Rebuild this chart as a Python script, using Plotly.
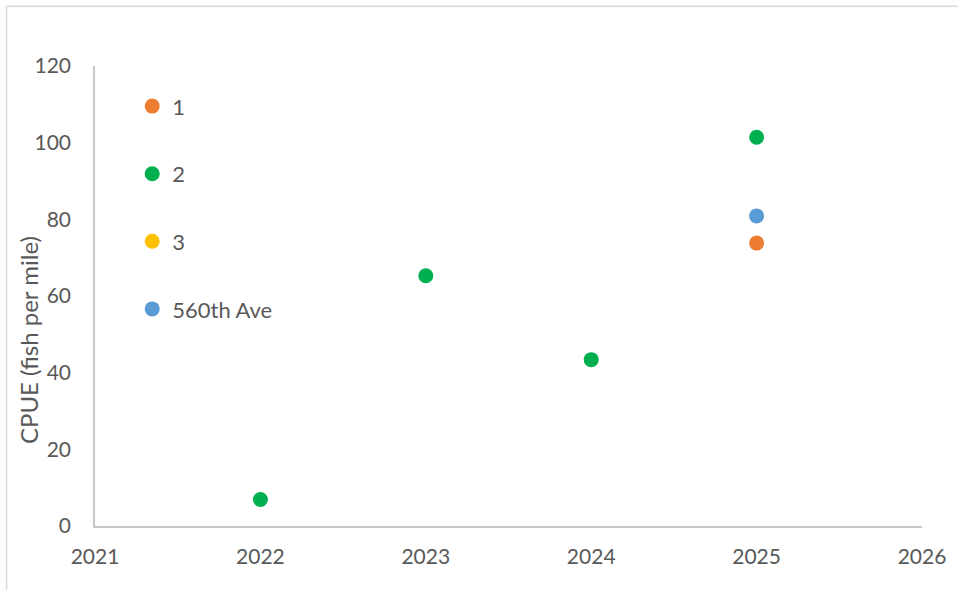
import plotly.graph_objects as go

# Survey years and catch-per-unit-effort by site
years = [2022, 2023, 2024, 2025]
site_1 = [None, None, None, 73.8]
site_2 = [6.9, 65.3, 43.4, 101.4]
site_3 = [None, None, None, None]
site_560th = [None, None, None, 80.9]

series = [
    ("1", site_1, "#ED7D31"),
    ("2", site_2, "#00B050"),
    ("3", site_3, "#FFC000"),
    ("560th Ave", site_560th, "#5B9BD5"),
]

x_ticks = [2021, 2022, 2023, 2024, 2025, 2026]
y_ticks = [0, 20, 40, 60, 80, 100, 120]

FONT = "Lato, Open Sans, sans-serif"
TEXT = "#595959"

fig = go.Figure()
for i, (name, vals, color) in enumerate(series):
    fig.add_trace(go.Scatter(
        x=years, y=vals, name=name, mode="markers",
        legendgroup=f"g{i}",
        marker=dict(color=color, size=15, line=dict(width=0)),
    ))

fig.update_layout(
    width=958, height=590,
    margin=dict(l=95, r=32, t=66, b=63.5),
    paper_bgcolor="white", plot_bgcolor="white",
    font=dict(family=FONT, size=20, color=TEXT),
    showlegend=True,
    legend=dict(
        x=0.045, y=0.958, xanchor="left", yanchor="top",
        bgcolor="rgba(0,0,0,0)", tracegroupgap=36,
        font=dict(size=22, color=TEXT),
    ),
    xaxis=dict(
        range=[2021, 2026], tickvals=x_ticks, ticktext=[str(v) for v in x_ticks],
        showgrid=False, zeroline=False, showline=True, linecolor="#C8C8C8",
        linewidth=1.5, ticks="", ticklen=0, ticklabelstandoff=11,
        tickfont=dict(size=21, color=TEXT),
    ),
    yaxis=dict(
        range=[0, 120], tickvals=y_ticks,
        showgrid=False, zeroline=False, showline=True, linecolor="#C8C8C8",
        linewidth=1.5, ticks="", ticklen=0, ticklabelstandoff=18,
        tickfont=dict(size=21, color=TEXT),
    ),
    annotations=[dict(
        text="CPUE (fish per mile)", xref="paper", yref="paper",
        x=-0.0806, y=0.405, xanchor="center", yanchor="middle",
        textangle=-90, showarrow=False, font=dict(size=24, color=TEXT),
    )],
    shapes=[dict(
        type="rect", xref="paper", yref="paper",
        x0=-0.107, x1=1.2, y0=-0.3, y1=1.13,
        line=dict(color="#D9D9D9", width=1.5), fillcolor="rgba(0,0,0,0)",
    )],
)

fig.write_html("out.html")
